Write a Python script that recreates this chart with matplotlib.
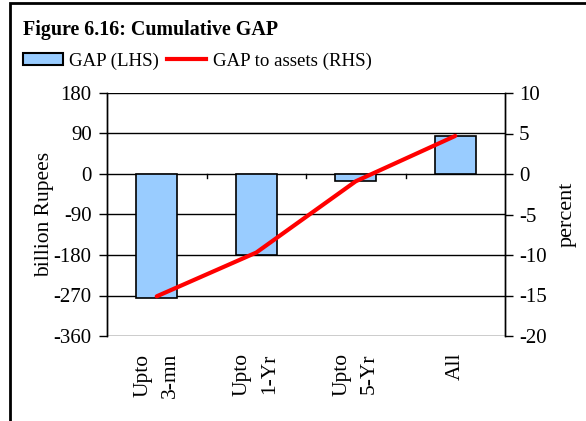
import matplotlib
matplotlib.use("Agg")
import matplotlib.pyplot as plt
from matplotlib.patches import Rectangle
from matplotlib.lines import Line2D

# data
categories = ["Upto\n3-mn", "Upto\n1-Yr", "Upto\n5-Yr", "All"]
gap_bn = [-275, -180, -15, 84]          # LHS, billion Rupees
gap_to_assets = [-15.1, -9.7, -0.9, 4.7]  # RHS, percent

left_ticks = [180, 90, 0, -90, -180, -270, -360]
right_ticks = [10, 5, 0, -5, -10, -15, -20]

plt.rcParams['font.family'] = ['Liberation Serif', 'DejaVu Serif']
plt.rcParams['axes.unicode_minus'] = False

W, H = 586, 421
fig = plt.figure(figsize=(W / 100, H / 100), dpi=100)
ax = fig.add_axes([107 / W, 1 - 336 / H, (505 - 107) / W, (336 - 93) / H])
ax2 = ax.twinx()

x = list(range(len(categories)))
ax.bar(x, gap_bn, width=0.41, color='#99ccff', edgecolor='black', linewidth=1.2, zorder=3)
ax2.plot(x, gap_to_assets, color='#ff0000', linewidth=3, zorder=4, solid_capstyle='round')

ax.set_xlim(-0.5, len(categories) - 0.5)
ax.set_ylim(-360, 180)
ax.set_yticks(left_ticks)
ax2.set_ylim(-20, 10)
ax2.set_yticks(right_ticks)

for y in left_ticks:
    ax.axhline(y, color='black', linewidth=1.0, zorder=1)
# zero axis with small ticks between categories
for b in [0.5, 1.5, 2.5]:
    ax.plot([b, b], [0, -9], color='black', linewidth=1.0, zorder=2)

ax.set_xticks(x)
ax.set_xticklabels(categories, rotation=90, fontsize=15.5, linespacing=1.6)
ax.tick_params(axis='x', length=0, pad=12)
ax.tick_params(axis='y', labelsize=15, length=6, width=1.0, direction='out', pad=5)
ax2.tick_params(axis='y', labelsize=15, length=6, width=1.0, direction='out', pad=4)

for a in (ax, ax2):
    for s in ['top', 'bottom']:
        a.spines[s].set_visible(False)
    for s in ['left', 'right']:
        a.spines[s].set_linewidth(1.0)

ax.set_ylabel("billion Rupees", fontsize=15.5, labelpad=0)
ax2.set_ylabel("percent", fontsize=16, rotation=90, labelpad=8)

fig.text(23 / W, 1 - 30 / H, "Figure 6.16: Cumulative GAP", fontsize=14.4,
         fontweight='bold', va='center', ha='left')

handles = [Rectangle((0, 0), 1, 1, facecolor='#99ccff', edgecolor='black', linewidth=1.5),
           Line2D([0], [0], color='#ff0000', linewidth=3)]
fig.legend(handles, ["GAP (LHS)", "GAP to assets (RHS)"], loc='center left',
           bbox_to_anchor=(23 / W, 1 - 61 / H), ncol=2, frameon=False, fontsize=13.6,
           handlelength=2.1, handleheight=0.6, handletextpad=0.35, columnspacing=0.4,
           borderpad=0, borderaxespad=0)

fig.patches.append(Rectangle((10 / W, -0.05), 1.0, 1 - 3 / H + 0.05, transform=fig.transFigure,
                             fill=False, edgecolor='black', linewidth=2))

fig.savefig("out.png", dpi=100)
